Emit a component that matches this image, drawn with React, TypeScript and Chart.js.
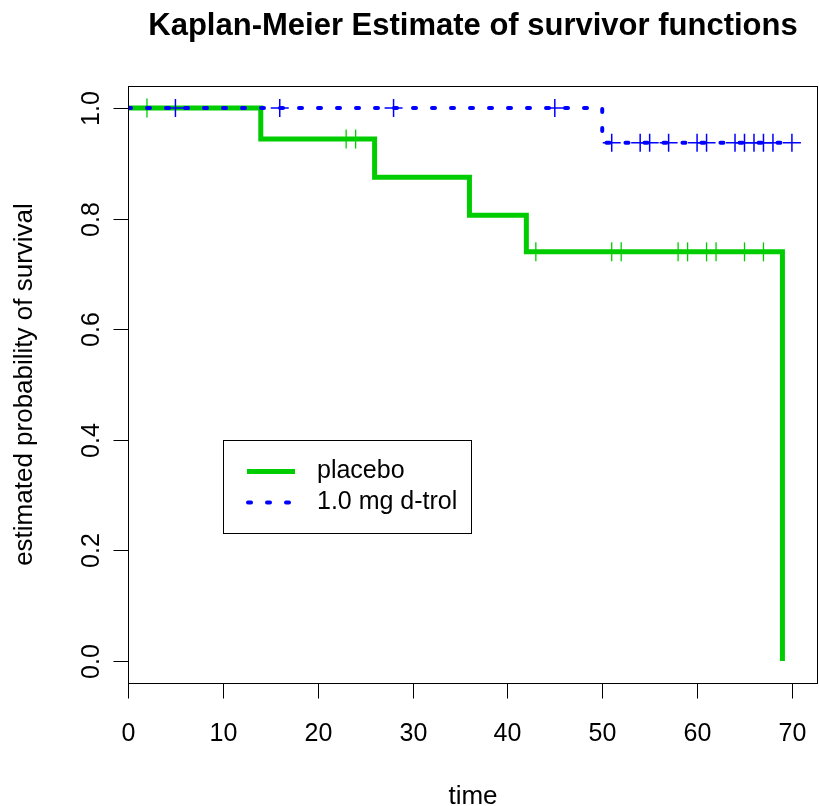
import React, { useEffect, useRef } from "react";
import { Chart, registerables } from "chart.js";

Chart.register(...registerables);

// ---- data ----
const chartTitle = "Kaplan-Meier Estimate of survivor functions";
const xLabel = "time";
const yLabel = "estimated probability of survival";
const seriesNames = ["placebo", "1.0 mg d-trol"];

// step function (event times / survival after that time)
const placeboTimes = [0, 14, 26, 36, 42, 69];
const placeboSurv = [1.0, 0.944, 0.875, 0.806, 0.74, 0.0];
const placeboCensor = [2, 23, 24, 43, 51, 52, 58, 59, 61, 62, 65, 67];

const drugTimes = [0, 50, 70];
const drugSurv = [1.0, 0.9375, 0.9375];
const drugCensor = [5, 16, 28, 45, 51, 54, 55, 57, 60, 61, 64, 65, 66, 67, 68, 70];

const xTicks = [0, 10, 20, 30, 40, 50, 60, 70];
const yTicks = [0.0, 0.2, 0.4, 0.6, 0.8, 1.0];
const yTickLabels = ["0.0", "0.2", "0.4", "0.6", "0.8", "1.0"];

const GREEN = "#00CD00";
const BLUE = "#0000FF";
const FONT = "'Liberation Sans', Arial, Helvetica, sans-serif";

function survAt(times: number[], surv: number[], t: number) {
  let v = surv[0];
  for (let i = 0; i < times.length; i++) if (times[i] <= t) v = surv[i];
  return v;
}

const decorPlugin = {
  id: "rdecor",
  afterDraw(chart: any) {
    const { ctx, chartArea, scales } = chart;
    const xs = scales.x;
    const ys = scales.y;
    const { left, right, top, bottom } = chartArea;
    ctx.save();
    ctx.strokeStyle = "#000";
    ctx.fillStyle = "#000";
    ctx.lineWidth = 1;
    // box
    ctx.strokeRect(Math.round(left) + 0.5, Math.round(top) + 0.5, Math.round(right - left) - 1, Math.round(bottom - top));
    // x ticks
    ctx.font = `25px ${FONT}`;
    ctx.textAlign = "center";
    ctx.textBaseline = "middle";
    xTicks.forEach((t) => {
      const px = Math.round(xs.getPixelForValue(t)) + 0.5;
      ctx.beginPath();
      ctx.moveTo(px, Math.round(bottom) + 0.5);
      ctx.lineTo(px, Math.round(bottom) + 15.5);
      ctx.stroke();
      ctx.fillText(String(t), px, 734);
    });
    // y ticks
    yTicks.forEach((v, i) => {
      const py = Math.round(ys.getPixelForValue(v)) + 0.5;
      ctx.beginPath();
      ctx.moveTo(Math.round(left) + 0.5, py);
      ctx.lineTo(Math.round(left) - 14.5, py);
      ctx.stroke();
      ctx.save();
      ctx.translate(92, py);
      ctx.rotate(-Math.PI / 2);
      ctx.fillText(yTickLabels[i], 0, 0);
      ctx.restore();
    });
    // axis titles
    ctx.font = `26px ${FONT}`;
    ctx.fillText(xLabel, (left + right) / 2, 797);
    ctx.save();
    ctx.translate(25, (top + bottom) / 2);
    ctx.rotate(-Math.PI / 2);
    ctx.fillText(yLabel, 0, 0);
    ctx.restore();
    // main title
    ctx.font = `bold 31px ${FONT}`;
    ctx.fillText(chartTitle, (left + right) / 2, 26);

    // legend
    const lx = Math.round(xs.getPixelForValue(9.98));
    const ly = Math.round(ys.getPixelForValue(0.399));
    const lw = 248;
    const lh = 93;
    ctx.lineWidth = 1;
    ctx.strokeStyle = "#000";
    ctx.strokeRect(lx + 0.5, ly + 0.5, lw, lh);
    const row1 = ly + 31.5;
    const row2 = ly + 62.5;
    ctx.lineWidth = 5;
    ctx.strokeStyle = GREEN;
    ctx.beginPath();
    ctx.moveTo(lx + 24, row1);
    ctx.lineTo(lx + 72, row1);
    ctx.stroke();
    ctx.lineWidth = 4;
    ctx.strokeStyle = BLUE;
    ctx.lineCap = "round";
    ctx.setLineDash([3, 16]);
    ctx.beginPath();
    ctx.moveTo(lx + 25, row2);
    ctx.lineTo(lx + 72, row2);
    ctx.stroke();
    ctx.setLineDash([]);
    ctx.font = `25px ${FONT}`;
    ctx.textAlign = "left";
    ctx.fillStyle = "#000";
    ctx.fillText(seriesNames[0], lx + 94, row1);
    ctx.fillText(seriesNames[1], lx + 94, row2);
    ctx.restore();
  },
};

export default function App() {
  const ref = useRef<HTMLCanvasElement | null>(null);
  useEffect(() => {
    if (!ref.current) return;
    const placeboLine = placeboTimes.map((t, i) => ({ x: t, y: placeboSurv[i] }));
    const drugLine = drugTimes.map((t, i) => ({ x: t, y: drugSurv[i] }));
    const placeboMarks = placeboCensor.map((t) => ({ x: t, y: survAt(placeboTimes, placeboSurv, t) }));
    const drugMarks = drugCensor.map((t) => ({ x: t, y: survAt(drugTimes, drugSurv, t) }));
    const chart = new Chart(ref.current, {
      type: "line",
      data: {
        datasets: [
          {
            label: seriesNames[0],
            data: placeboLine,
            stepped: true,
            borderColor: GREEN,
            borderWidth: 5,
            pointRadius: 0,
            fill: false,
            order: 3,
          },
          {
            label: seriesNames[0] + " censored",
            data: placeboMarks,
            showLine: false,
            pointStyle: "line",
            rotation: 90,
            pointRadius: 9.5,
            borderColor: GREEN,
            backgroundColor: GREEN,
            pointBorderWidth: 1.3,
            order: 2,
          },
          {
            label: seriesNames[1],
            data: drugLine,
            stepped: true,
            borderColor: BLUE,
            borderWidth: 4,
            borderDash: [3, 16],
            borderCapStyle: "round",
            pointRadius: 0,
            fill: false,
            order: 1,
          },
          {
            label: seriesNames[1] + " censored",
            data: drugMarks,
            showLine: false,
            pointStyle: "cross",
            pointRadius: 9,
            borderColor: BLUE,
            backgroundColor: BLUE,
            pointBorderWidth: 1.5,
            order: 0,
          },
        ] as any,
      },
      options: {
        animation: false,
        responsive: false,
        devicePixelRatio: 1,
        events: [],
        layout: { autoPadding: false, padding: { left: 128, right: 1, top: 86, bottom: 123 } },
        plugins: { legend: { display: false }, tooltip: { enabled: false }, title: { display: false } },
        scales: {
          x: { type: "linear", min: 0, max: 72.75, display: false },
          y: { type: "linear", min: -0.04, max: 1.04, display: false },
        },
      },
      plugins: [decorPlugin],
    });
    return () => chart.destroy();
  }, []);
  return (
    <div style={{ position: "fixed", left: 0, top: 0, width: 819, height: 806, background: "#fff" }}>
      <canvas ref={ref} width={819} height={806} style={{ width: 819, height: 806, display: "block" }} />
    </div>
  );
}
